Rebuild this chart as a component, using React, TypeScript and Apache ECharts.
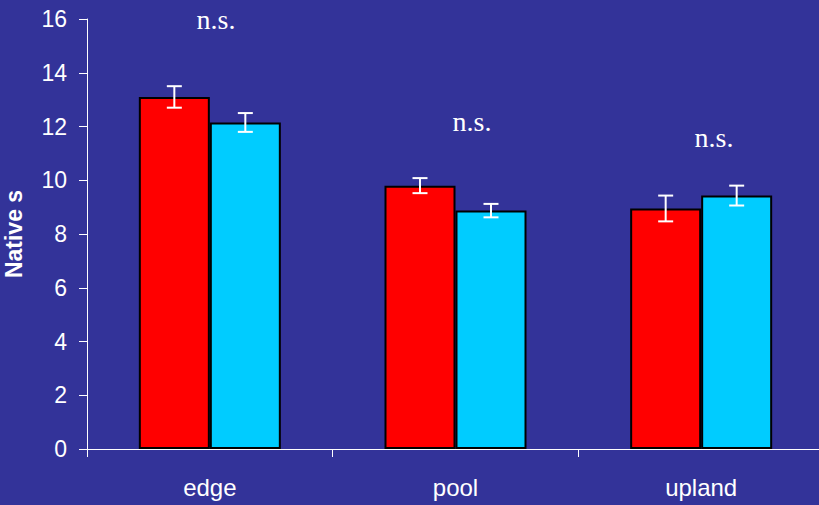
import React, { useEffect, useRef } from "react";
import * as echarts from "echarts";

const categories = ["edge", "pool", "upland"];
const redValues = [13.1, 9.8, 8.95];
const redErrors = [0.4, 0.28, 0.48];
const cyanValues = [12.15, 8.87, 9.43];
const cyanErrors = [0.35, 0.25, 0.37];
const yTicks = { min: 0, max: 16, interval: 2 };
const yAxisTitle = "Native s";
const annotations = [
  { text: "n.s.", x: 216, y: 19.5 },
  { text: "n.s.", x: 472, y: 121.5 },
  { text: "n.s.", x: 714, y: 137.5 },
];

const BAR_W = 71;

function errorRenderer(values: number[], errors: number[], side: number) {
  return (params: any, api: any) => {
    const i = api.value(0);
    const center = api.coord([i, 0]);
    const top = api.coord([i, values[i] + errors[i]]);
    const bot = api.coord([i, values[i] - errors[i]]);
    const x = center[0] + side * BAR_W / 2;
    const hw = 7.5;
    const style = { stroke: "#ffffff", lineWidth: 2 };
    return {
      type: "group",
      children: [
        { type: "line", shape: { x1: x, y1: top[1], x2: x, y2: bot[1] }, style },
        { type: "line", shape: { x1: x - hw, y1: top[1], x2: x + hw, y2: top[1] }, style },
        { type: "line", shape: { x1: x - hw, y1: bot[1], x2: x + hw, y2: bot[1] }, style },
      ],
    };
  };
}

export default function App() {
  const ref = useRef<HTMLDivElement>(null);
  useEffect(() => {
    if (!ref.current) return;
    const chart = echarts.init(ref.current, null, { renderer: "svg" });
    chart.setOption({
      animation: false,
      backgroundColor: "#333399",
      grid: { left: 87, right: -5, top: 19, bottom: 56, outerBoundsMode: "none", containLabel: false },
      xAxis: {
        type: "category",
        data: categories,
        axisLine: { lineStyle: { color: "#ffffff", width: 1 } },
        axisTick: { show: true, length: 8, lineStyle: { color: "#ffffff" } },
        axisLabel: {
          color: "#ffffff",
          fontSize: 24,
          fontFamily: "Liberation Sans, Arial, sans-serif",
          margin: 26,
        },
        splitLine: { show: false },
      },
      yAxis: {
        type: "value",
        min: yTicks.min,
        max: yTicks.max,
        interval: yTicks.interval,
        name: yAxisTitle,
        nameLocation: "middle",
        nameRotate: 90,
        nameGap: 62,
        nameTextStyle: {
          color: "#ffffff",
          fontSize: 23,
          fontWeight: "bold",
          fontFamily: "Liberation Sans, Arial, sans-serif",
        },
        axisLine: { show: true, lineStyle: { color: "#ffffff", width: 1 } },
        axisTick: { show: true, length: 8, lineStyle: { color: "#ffffff" } },
        axisLabel: {
          color: "#ffffff",
          fontSize: 23,
          fontFamily: "Liberation Sans, Arial, sans-serif",
          margin: 20,
        },
        splitLine: { show: false },
      },
      series: [
        {
          type: "bar",
          data: redValues,
          barWidth: BAR_W,
          barGap: "0%",
          itemStyle: { color: "#ff0000", borderColor: "#000000", borderWidth: 2 },
        },
        {
          type: "bar",
          data: cyanValues,
          barWidth: BAR_W,
          barGap: "0%",
          itemStyle: { color: "#00ccff", borderColor: "#000000", borderWidth: 2 },
        },
        {
          type: "custom",
          renderItem: errorRenderer(redValues, redErrors, -1),
          data: redValues.map((v, i) => [i, v]),
          z: 10,
        },
        {
          type: "custom",
          renderItem: errorRenderer(cyanValues, cyanErrors, 1),
          data: cyanValues.map((v, i) => [i, v]),
          z: 10,
        },
      ],
      graphic: annotations.map((a) => ({
        type: "text",
        x: a.x,
        y: a.y,
        style: {
          text: a.text,
          fill: "#ffffff",
          font: "28px 'Liberation Serif', 'Times New Roman', serif",
          textAlign: "center",
          textVerticalAlign: "middle",
        },
      })),
    });
    return () => chart.dispose();
  }, []);
  return (
    <div
      ref={ref}
      style={{ position: "fixed", left: 0, top: 0, width: 819, height: 505 }}
    />
  );
}
